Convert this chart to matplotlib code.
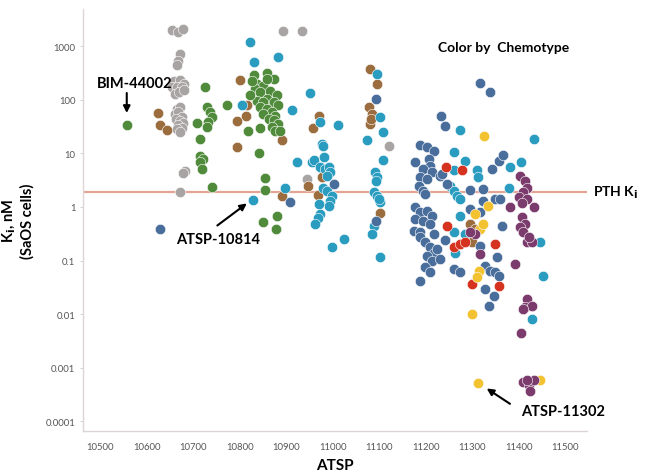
import matplotlib
matplotlib.use("Agg")
import matplotlib.pyplot as plt

plt.rcParams["font.family"] = ["Lato", "DejaVu Sans"]

# (ATSP, Ki nM) per chemotype
gray_pts = [
    (10654, 1950), (10668, 1830), (10679, 2040), (10672, 710), (10668, 535),
    (10666, 435), (10658, 224), (10672, 230), (10680, 200), (10655, 174),
    (10665, 174), (10676, 174), (10660, 129), (10670, 140), (10680, 150),
    (10665, 67), (10672, 72), (10660, 55), (10668, 58), (10676, 48),
    (10663, 44), (10671, 40), (10679, 36), (10667, 33), (10675, 30),
    (10664, 28), (10672, 25), (10683, 4.7), (10677, 4.3), (10672, 1.9),
    (10894, 1880), (10934, 1900), (10945, 3.3), (11121, 13.7),
]
brown_pts = [
    (10625, 57), (10629, 34), (10644, 27), (10801, 234), (10815, 80),
    (10813, 50), (10794, 40), (10794, 13), (10891, 18), (10891, 1.6),
    (11081, 375), (11096, 196), (11078, 73), (11085, 54), (11081, 35),
    (11082, 44), (10971, 50), (10958, 30), (10977, 3.6), (10947, 2.5),
    (10969, 1.7), (11102, 0.77), (11296, 0.48), (11306, 0.39), (11300, 0.22),
]
green_pts = [
    (10557, 34), (10726, 174), (10772, 80), (10729, 73), (10737, 59),
    (10740, 48), (10732, 38), (10708, 37), (10729, 31), (10715, 18.5),
    (10715, 9), (10722, 7.9), (10715, 6.9), (10719, 5.1), (10740, 2.4),
    (10818, 26), (10844, 30), (10842, 10), (10855, 3.5), (10855, 2.1),
    (10851, 0.52), (10880, 0.69), (10878, 0.38),
    (10830, 290), (10858, 316), (10873, 245), (10837, 196), (10851, 183),
    (10833, 158), (10844, 138), (10866, 148), (10880, 120), (10858, 103),
    (10837, 96), (10851, 90), (10873, 90), (10883, 78), (10844, 72),
    (10858, 67), (10869, 58), (10876, 50), (10851, 54), (10862, 44),
    (10873, 41), (10883, 35), (10869, 31), (10876, 26.5), (10887, 26.5),
    (10823, 120), (10858, 245), (10826, 227),
]
teal_pts = [
    (10823, 1200), (10830, 500), (10883, 620), (10805, 78), (10912, 65),
    (10950, 134), (10922, 6.9), (10955, 7), (10898, 2.3), (10829, 1.37),
    (10973, 38), (11012, 34), (10977, 15), (10980, 13.7), (10959, 7.4),
    (10982, 8.4), (10973, 5.5), (10984, 5.1), (10991, 5.5), (10995, 4.4),
    (10988, 3.8), (10980, 2.3), (10987, 2.0), (10998, 1.6), (10995, 1.3),
    (10991, 1.06), (10970, 1.14), (10972, 0.74), (10968, 0.62), (10962, 0.48),
    (10998, 0.18), (11025, 0.25), (11096, 300), (11101, 47), (11109, 25),
    (11073, 18), (11109, 7.4), (11091, 4.4), (11096, 3.6), (11094, 3.1),
    (11088, 1.9), (11095, 1.6), (11102, 1.22), (11099, 1.4), (11088, 0.45),
    (11084, 0.31), (11101, 0.115),
    (11274, 27.6), (11433, 18.5), (11260, 10.5), (11285, 7.3), (11310, 4.8),
    (11313, 3.6), (11260, 4.8), (11253, 2.5), (11260, 2.0), (11267, 1.6),
    (11274, 1.4), (11382, 5.5), (11405, 7), (11378, 2.3), (11274, 0.69),
    (11260, 0.34), (11285, 0.31), (11263, 0.14), (11453, 0.052),
    (11428, 0.0081), (11446, 0.22),
]
slate_pts = [
    (10909, 1.24), (10629, 0.39), (11002, 2.7), (11094, 103), (11094, 0.55),
    (11233, 49), (11242, 32), (11317, 205), (11337, 138),
    (11188, 14), (11202, 13), (11217, 11.2), (11177, 6.8), (11206, 7.9),
    (11210, 5.9), (11195, 5.1), (11213, 4.4), (11188, 3.6), (11185, 2.5),
    (11195, 2.0), (11199, 1.75), (11231, 3.8), (11202, 3.3), (11235, 4.1),
    (11245, 2.7), (11296, 2.1), (11324, 2.2), (11342, 5.1), (11357, 7.3),
    (11367, 9.3), (11349, 1.4), (11360, 1.4), (11324, 1.3),
    (11177, 1.0), (11188, 0.8), (11202, 0.85), (11213, 0.69), (11177, 0.6),
    (11195, 0.55), (11210, 0.48), (11174, 0.36), (11188, 0.34), (11217, 0.31),
    (11364, 0.45), (11296, 0.92), (11317, 0.8),
    (11188, 0.27), (11199, 0.22), (11210, 0.18), (11217, 0.14), (11202, 0.12),
    (11213, 0.1), (11199, 0.075), (11210, 0.06), (11188, 0.042),
    (11224, 0.165), (11231, 0.107), (11242, 0.24), (11317, 0.19),
    (11353, 0.115), (11260, 0.07), (11274, 0.06), (11328, 0.08),
    (11339, 0.065), (11349, 0.06), (11357, 0.052), (11328, 0.03),
    (11346, 0.022), (11335, 0.014),
]
red_pts = [
    (11243, 5.5), (11278, 4.8), (11245, 0.44), (11260, 0.18), (11274, 0.2),
    (11285, 0.22), (11349, 0.2), (11299, 0.037), (11358, 0.033),
]
yellow_pts = [
    (11326, 21), (11333, 1.03), (11306, 0.74), (11317, 0.39), (11324, 0.48),
    (11315, 0.065), (11310, 0.049), (11299, 0.01), (11313, 0.00052),
    (11446, 0.0006),
]
purple_pts = [
    (11403, 3.8), (11414, 3.1), (11418, 2.3), (11410, 1.9), (11400, 1.5),
    (11418, 1.4), (11407, 1.2), (11382, 1.0), (11432, 1.0), (11407, 0.64),
    (11414, 0.48), (11403, 0.43), (11410, 0.34), (11418, 0.22), (11428, 0.22),
    (11421, 0.27), (11317, 0.13), (11392, 0.086), (11306, 0.31), (11296, 0.34),
    (11418, 0.019), (11414, 0.0135), (11428, 0.014), (11410, 0.0125),
    (11405, 0.0045), (11410, 0.00054), (11421, 0.00047), (11425, 0.00037),
    (11432, 0.00059), (11418, 0.00059),
]

groups = [
    (gray_pts, "#a9a4a4"),
    (brown_pts, "#9a6c3e"),
    (green_pts, "#4f8b3b"),
    (teal_pts, "#2a9cbf"),
    (slate_pts, "#4a6e9c"),
    (red_pts, "#d63220"),
    (yellow_pts, "#f2c230"),
    (purple_pts, "#7b3b6c"),
]

pth_ki = 1.9
yticks = [0.0001, 0.001, 0.01, 0.1, 1, 10, 100, 1000]
ytick_labels = ["0.0001", "0.001", "0.01", "0.1", "1", "10", "100", "1000"]
xticks = [10500, 10600, 10700, 10800, 10900, 11000, 11100, 11200, 11300, 11400, 11500]

fig = plt.figure(figsize=(6.59, 4.77), dpi=100)
ax = fig.add_axes([0.126, 0.094, 0.765, 0.885])

ax.axhline(pth_ki, color="#e4a494", lw=1.6, zorder=1)

for pts, color in groups:
    xs = [p[0] for p in pts]
    ys = [p[1] for p in pts]
    ax.scatter(xs, ys, s=56, color=color, edgecolors="white", linewidths=0.4,
               zorder=2)

ax.set_yscale("log")
ax.set_xlim(10463, 11547)
ax.set_ylim(0.000066, 4900)
ax.set_yticks(yticks)
ax.set_yticklabels(ytick_labels)
ax.minorticks_off()
ax.set_xticks(xticks)
ax.set_xticklabels([str(t) for t in xticks])
ax.tick_params(labelsize=6.8, colors="#555555", length=2, width=0.6,
               color="#cccccc")
ax.tick_params(axis="x", length=0, pad=8)

for side in ["top", "right"]:
    ax.spines[side].set_visible(False)
for side in ["left", "bottom"]:
    ax.spines[side].set_color("#ddd5d5")
    ax.spines[side].set_linewidth(1.0)

ax.set_xlabel("ATSP", fontsize=11, fontweight="bold", labelpad=5)
ax.set_ylabel("K$_\\mathbf{i}$, nM\n(SaOS cells)", fontsize=10.5,
              fontweight="bold", labelpad=8)

ax.text(11367, 980, "Color by  Chemotype", fontsize=10, fontweight="bold",
        ha="center", va="center")
ax.text(11560, pth_ki, "PTH K$_\\mathbf{i}$", fontsize=10, fontweight="bold",
        ha="left", va="center", clip_on=False)

arrow = dict(arrowstyle="-|>", color="black", lw=1.5, mutation_scale=10)
ax.text(10573, 205, "BIM-44002", fontsize=10.5, fontweight="bold",
        ha="center", va="center")
ax.annotate("", xy=(10557, 50), xytext=(10557, 150), arrowprops=arrow)
ax.text(10754, 0.25, "ATSP-10814", fontsize=10.5, fontweight="bold",
        ha="center", va="center")
ax.annotate("", xy=(10820, 1.25), xytext=(10747, 0.42), arrowprops=arrow)
ax.text(11496, 0.00016, "ATSP-11302", fontsize=10.5, fontweight="bold",
        ha="center", va="center")
ax.annotate("", xy=(11326, 0.00044), xytext=(11386, 0.0002), arrowprops=arrow)

fig.savefig("out.png", dpi=100)
